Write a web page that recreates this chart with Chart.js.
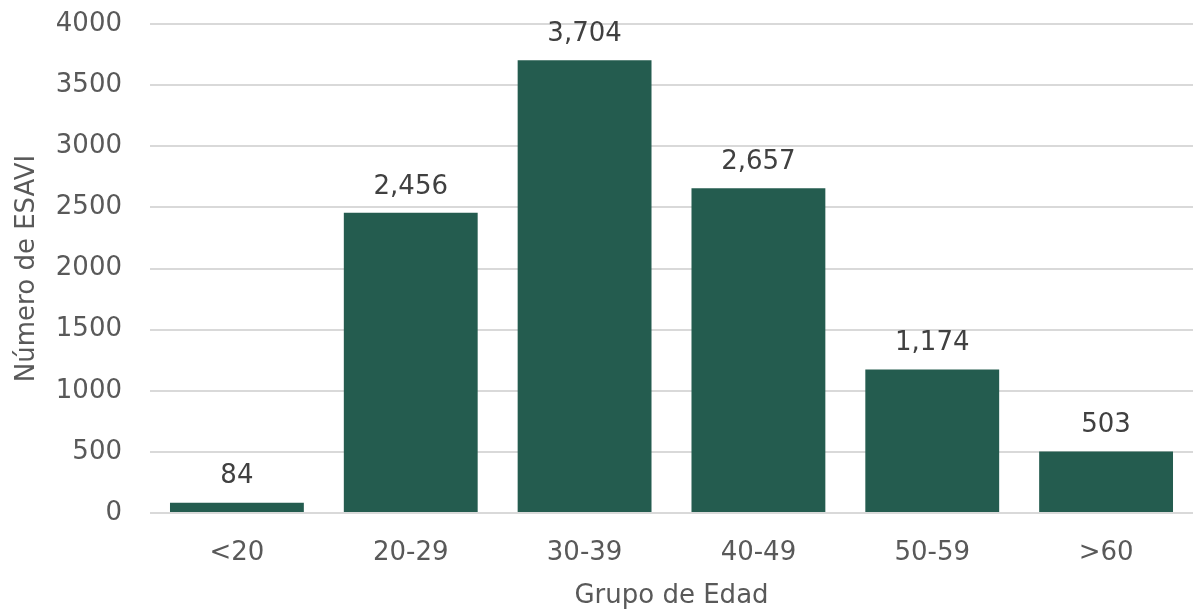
<!DOCTYPE html>
<html>
<head>
<meta charset="utf-8">
<script src="https://cdn.jsdelivr.net/npm/chart.js@4/dist/chart.umd.min.js"></script>
<style>
	html, body { margin: 0; padding: 0; background: #fff; }
	#wrap { width: 1196px; height: 612px; }
</style>
</head>
<body>
<div id="wrap"><canvas id="myChart" width="1196" height="612"></canvas></div>
<script>
// datos
let categorias = ['<20', '20-29', '30-39', '40-49', '50-59', '>60'];
let esavi = [84, 2456, 3704, 2657, 1174, 503];
let yMax = 4000, yStep = 500;

let fontName = '"DejaVu Sans", sans-serif';

// etiquetas encima de cada barra
let etiquetas = {
	id: 'etiquetas',
	afterDatasetsDraw(chart) {
		let ctx = chart.ctx;
		let meta = chart.getDatasetMeta(0);
		ctx.save();
		ctx.font = '26px ' + fontName;
		ctx.fillStyle = '#404040';
		ctx.textAlign = 'center';
		ctx.textBaseline = 'bottom';
		meta.data.forEach(function (bar, i) {
			ctx.fillText(esavi[i].toLocaleString('en-US'), bar.x, bar.y - 13);
		});
		ctx.restore();
	}
};

let ctx = document.getElementById('myChart').getContext('2d');
let chart = new Chart(ctx, {
	type: 'bar',
	data: {
		labels: categorias,
		datasets: [{
			label: 'ESAVI',
			data: esavi,
			backgroundColor: '#245C4F',
			borderWidth: 0,
			categoryPercentage: 1,
			barPercentage: 0.77
		}]
	},
	options: {
		responsive: false,
		animation: false,
		layout: { padding: { top: 24, right: 3, left: 0, bottom: 0 } },
		plugins: {
			legend: { display: false },
			tooltip: { enabled: false }
		},
		scales: {
			x: {
				grid: { display: false },
				border: { display: false },
				ticks: { color: '#595959', font: { size: 26, family: fontName }, padding: 17 },
				title: {
					display: true,
					text: 'Grupo de Edad',
					color: '#595959',
					font: { size: 26, family: fontName },
					padding: { top: 4, bottom: 0 }
				},
				afterFit: function (scale) { scale.height = 99; }
			},
			y: {
				min: 0,
				max: yMax,
				grid: { color: '#D9D9D9', lineWidth: 2, drawTicks: false },
				border: { display: false },
				ticks: {
					stepSize: yStep,
					color: '#595959',
					font: { size: 26, family: fontName },
					padding: 28,
					callback: function (v) { return String(v); }
				},
				title: {
					display: true,
					text: 'Número de ESAVI',
					color: '#595959',
					font: { size: 26, family: fontName },
					padding: { top: 12, bottom: 0 }
				},
				afterFit: function (scale) {
					scale.width = 150;
					scale.paddingTop = 0;
				}
			}
		}
	},
	plugins: [etiquetas]
});
</script>
</body>
</html>
